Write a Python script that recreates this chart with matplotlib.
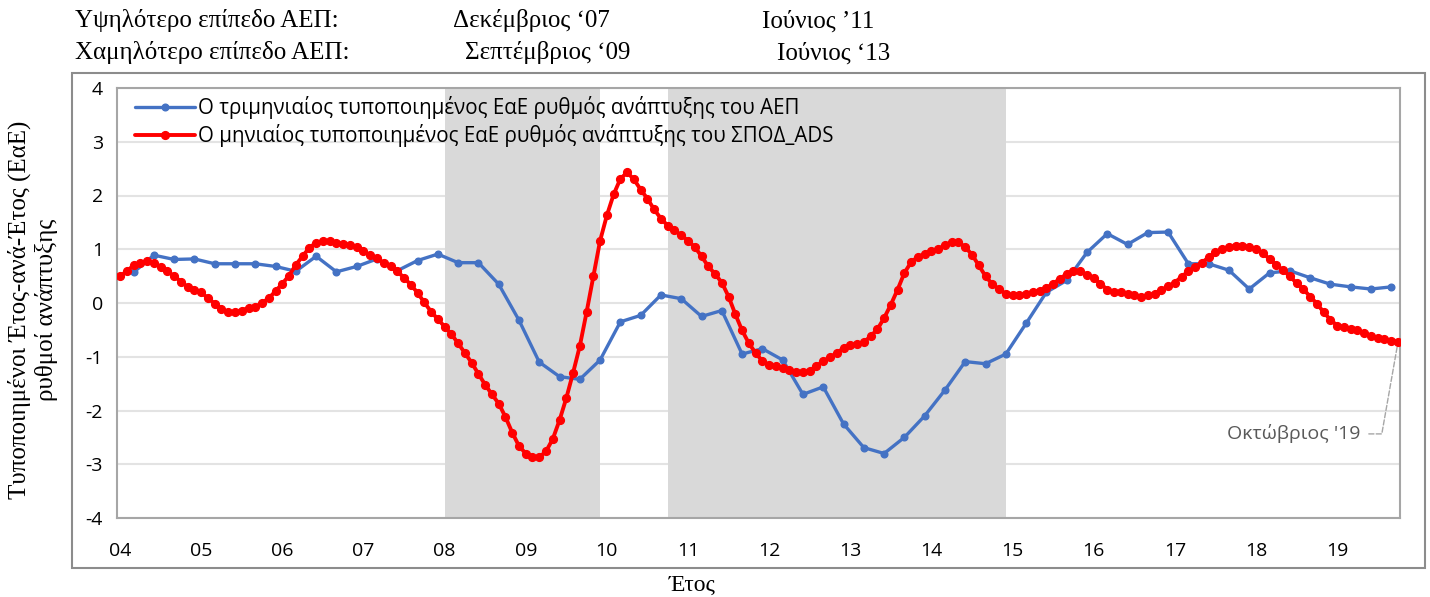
import matplotlib
matplotlib.use("Agg")
import matplotlib.pyplot as plt
from matplotlib.patches import Rectangle
import numpy as np

plt.rcParams["axes.unicode_minus"] = False

# ── DATA ─────────────────────────────────────────────────────
YEAR_LABELS = ["04", "05", "06", "07", "08", "09", "10", "11",
               "12", "13", "14", "15", "16", "17", "18", "19"]

# quarterly standardised YoY GDP growth, Q1 2004 .. Q3 2019
GDP_QUARTERLY = [
    0.57, 0.89, 0.81, 0.82, 0.73, 0.73, 0.73, 0.68, 0.59, 0.87,
    0.58, 0.68, 0.82, 0.60, 0.79, 0.91, 0.75, 0.75, 0.35, -0.32,
    -1.10, -1.37, -1.42, -1.06, -0.35, -0.23, 0.15, 0.08, -0.25, -0.14,
    -0.95, -0.85, -1.06, -1.70, -1.56, -2.25, -2.69, -2.80, -2.50, -2.10,
    -1.62, -1.09, -1.13, -0.95, -0.38, 0.20, 0.42, 0.94, 1.29, 1.09,
    1.31, 1.32, 0.73, 0.73, 0.61, 0.26, 0.56, 0.60, 0.47, 0.35,
    0.30, 0.26, 0.30,
]

# monthly standardised YoY ADS growth, Jan 2004 .. Oct 2019
ADS_MONTHLY = [
    0.50, 0.59, 0.70, 0.75, 0.78, 0.75, 0.67, 0.59, 0.50, 0.40,
    0.30, 0.25, 0.20, 0.09, -0.01, -0.11, -0.17, -0.17, -0.14, -0.09,
    -0.07, 0.00, 0.09, 0.22, 0.36, 0.51, 0.71, 0.87, 1.03, 1.12,
    1.15, 1.15, 1.12, 1.10, 1.07, 1.04, 0.96, 0.89, 0.83, 0.75,
    0.68, 0.59, 0.47, 0.34, 0.19, 0.01, -0.16, -0.30, -0.44, -0.58,
    -0.75, -0.93, -1.11, -1.32, -1.52, -1.70, -1.87, -2.12, -2.41, -2.66,
    -2.80, -2.86, -2.87, -2.76, -2.53, -2.18, -1.77, -1.30, -0.80, -0.17,
    0.50, 1.16, 1.63, 2.02, 2.31, 2.43, 2.30, 2.11, 1.94, 1.74,
    1.57, 1.44, 1.35, 1.26, 1.16, 1.04, 0.87, 0.68, 0.54, 0.38,
    0.12, -0.21, -0.51, -0.75, -0.93, -1.08, -1.15, -1.18, -1.20, -1.24,
    -1.28, -1.29, -1.26, -1.17, -1.08, -1.01, -0.93, -0.84, -0.79, -0.76,
    -0.73, -0.62, -0.49, -0.28, -0.03, 0.25, 0.56, 0.76, 0.86, 0.91,
    0.96, 1.01, 1.07, 1.14, 1.13, 1.04, 0.90, 0.70, 0.50, 0.35,
    0.26, 0.17, 0.14, 0.14, 0.17, 0.21, 0.23, 0.28, 0.36, 0.45,
    0.54, 0.59, 0.59, 0.53, 0.47, 0.36, 0.25, 0.21, 0.20, 0.17,
    0.14, 0.11, 0.14, 0.17, 0.24, 0.31, 0.38, 0.49, 0.59, 0.67,
    0.75, 0.85, 0.94, 1.01, 1.04, 1.06, 1.06, 1.04, 1.01, 0.93,
    0.82, 0.71, 0.61, 0.50, 0.37, 0.26, 0.12, -0.01, -0.17, -0.31,
    -0.42, -0.45, -0.48, -0.51, -0.56, -0.61, -0.65, -0.67, -0.70, -0.73,
]

# recession periods, month index from Jan 2004 (start, end)
SHADED_MONTHS = [(48, 71), (81, 131)]

PEAK_LABELS   = ["Δεκέμβριος ‘07", "Ιούνιος ’11"]
TROUGH_LABELS = ["Σεπτέμβριος ‘09", "Ιούνιος ‘13"]
LAST_LABEL    = "Οκτώβριος '19"

GDP_NAME = "Ο τριμηνιαίος τυποποιημένος ΕαΕ ρυθμός ανάπτυξης του ΑΕΠ"
ADS_NAME = "Ο μηνιαίος τυποποιημένος ΕαΕ ρυθμός ανάπτυξης του ΣΠΟΔ_ADS"

# ── STYLE ────────────────────────────────────────────────────
BLUE  = "#4472C4"
RED   = "#FF0000"
SHADE = "#D9D9D9"
GRID  = "#E3E3E3"
FRAME = "#A6A6A6"
SANS  = ["Open Sans", "DejaVu Sans"]
SERIF = ["Liberation Serif", "DejaVu Serif"]

W, H = 1430, 597

def fx(px):
    return px / W

def fy(py):
    return 1 - py / H


fig = plt.figure(figsize=(W / 100, H / 100), dpi=100)
fig.patch.set_facecolor("white")

# outer chart box
fig.patches.append(Rectangle((fx(72), fy(568)), fx(1425) - fx(72), fy(73) - fy(568),
                             transform=fig.transFigure, fill=False,
                             edgecolor="#8C8C8C", linewidth=1.5))

ax = fig.add_axes([fx(117), fy(518), fx(1400) - fx(117), fy(88) - fy(518)])

months_q = np.arange(len(GDP_QUARTERLY)) * 3 + 2
months_m = np.arange(len(ADS_MONTHLY))

for s, e in SHADED_MONTHS:
    ax.axvspan(s, e, color=SHADE, zorder=1, linewidth=0)

ax.plot(months_q, GDP_QUARTERLY, color=BLUE, lw=2.4, marker="o", ms=4.8,
        zorder=3, label=GDP_NAME, solid_capstyle="round")
ax.plot(months_m, ADS_MONTHLY, color=RED, lw=2.8, marker="o", ms=5.6,
        zorder=4, label=ADS_NAME, solid_capstyle="round")

ax.set_xlim(-0.45, len(ADS_MONTHLY) - 1 + 0.3)
ax.set_ylim(-4, 4)
ax.set_yticks(range(-4, 5))
ax.set_xticks(np.arange(len(YEAR_LABELS)) * 12)
ax.set_xticklabels(YEAR_LABELS)
ax.tick_params(axis="both", length=0, labelsize=14, colors="black")
ax.tick_params(axis="x", pad=17)
ax.tick_params(axis="y", pad=10)
for lab in ax.get_xticklabels() + ax.get_yticklabels():
    lab.set_family(SANS)

ax.yaxis.grid(True, color=GRID, linewidth=1.5, zorder=0)
ax.set_axisbelow(True)
for sp in ax.spines.values():
    sp.set_color(FRAME)
    sp.set_linewidth(1.5)

leg = ax.legend(loc="upper left", frameon=False, prop={"family": SANS, "size": 14.8},
                handlelength=2.9, handletextpad=0.15, borderaxespad=0.0,
                labelspacing=0.25, bbox_to_anchor=(0.008, 1.0))

# label on the last monthly observation
ax.annotate(LAST_LABEL, xy=(months_m[-1], ADS_MONTHLY[-1]),
            xytext=(-27, -66), textcoords="offset points",
            ha="right", va="center", fontsize=14, color="#595959", family=SANS,
            arrowprops=dict(arrowstyle="-", color="#A6A6A6", linestyle="--",
                            linewidth=1, relpos=(1, 0.5), shrinkA=4, shrinkB=0,
                            connectionstyle="angle,angleA=0,angleB=80,rad=0"))

# header lines
hdr = dict(fontsize=18, family=SERIF, va="center", ha="left")
fig.text(fx(75), fy(21), "Υψηλότερο επίπεδο ΑΕΠ:", **hdr)
fig.text(fx(453), fy(21), PEAK_LABELS[0], **hdr)
fig.text(fx(762), fy(21), PEAK_LABELS[1], **hdr)
fig.text(fx(75), fy(53), "Χαμηλότερο επίπεδο ΑΕΠ:", **hdr)
fig.text(fx(465), fy(53), TROUGH_LABELS[0], **hdr)
fig.text(fx(777), fy(53), TROUGH_LABELS[1], **hdr)

fig.text(fx(33), fy(310), "Τυποποιημένοι Έτος-ανά-Έτος (ΕαΕ)\nρυθμοί ανάπτυξης",
         rotation=90, ha="center", va="center", multialignment="center",
         fontsize=18, family=SERIF, linespacing=1.2)
fig.text(fx(692), fy(585), "Έτος", ha="center", va="center", fontsize=17, family=SERIF)

fig.savefig("out.png", dpi=100)
